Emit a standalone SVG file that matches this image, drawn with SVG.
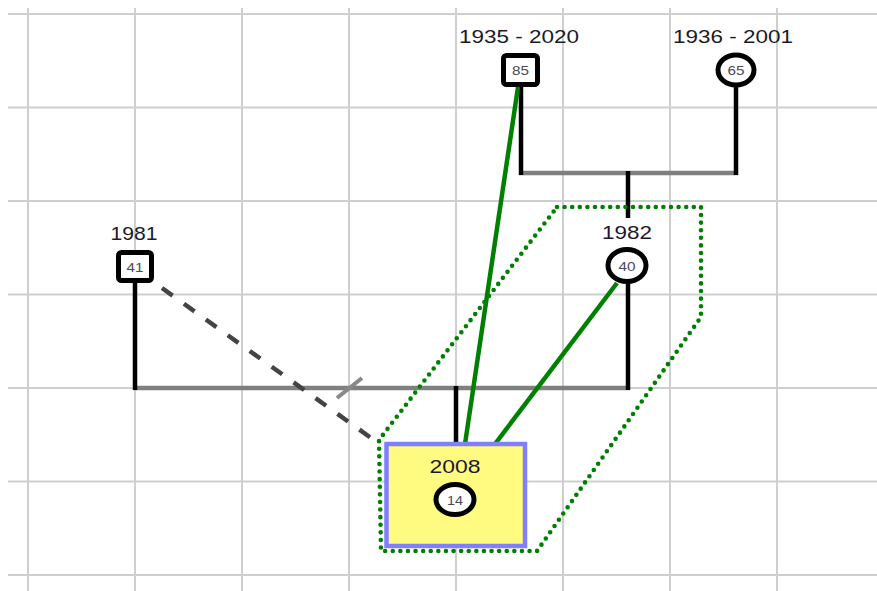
<svg xmlns="http://www.w3.org/2000/svg" width="877" height="591" viewBox="0 0 877 591">
<style>
.grid line{stroke:#cfcfcf;stroke-width:2}
.bar{stroke:#808080;stroke-width:4.5;fill:none}
.blk{stroke:#000;stroke-width:4.5;fill:none}
.grn{stroke:#008000;stroke-width:4.5;fill:none}
.lbl{font-family:"Liberation Sans",Arial,sans-serif;font-size:18.5px;fill:#1a1a2a;text-anchor:middle}
.age{font-family:"Liberation Sans",Arial,sans-serif;font-size:13.5px;fill:#4a4a5a;text-anchor:middle}
.sq{fill:#fff;stroke:#000;stroke-width:5}
.ci{fill:#fff;stroke:#000;stroke-width:5}
</style>
<rect width="877" height="591" fill="#fff"/>
<g class="grid">
<line x1="8" y1="14" x2="877" y2="14"/>
<line x1="8" y1="107.5" x2="877" y2="107.5"/>
<line x1="8" y1="201" x2="877" y2="201"/>
<line x1="8" y1="294.5" x2="877" y2="294.5"/>
<line x1="8" y1="388" x2="877" y2="388"/>
<line x1="8" y1="481.5" x2="877" y2="481.5"/>
<line x1="8" y1="575" x2="877" y2="575"/>
<line x1="28" y1="8" x2="28" y2="591"/>
<line x1="135" y1="8" x2="135" y2="591"/>
<line x1="242" y1="8" x2="242" y2="591"/>
<line x1="349" y1="8" x2="349" y2="591"/>
<line x1="456" y1="8" x2="456" y2="591"/>
<line x1="563" y1="8" x2="563" y2="591"/>
<line x1="670" y1="8" x2="670" y2="591"/>
<line x1="777" y1="8" x2="777" y2="591"/>
</g>
<g id="connectors">
<line class="bar" x1="519" y1="173" x2="738" y2="173"/>
<line class="blk" x1="521" y1="86" x2="521" y2="175"/>
<line class="blk" x1="736" y1="86" x2="736" y2="175"/>
<line class="blk" x1="628" y1="171" x2="628" y2="218"/>
<line class="bar" x1="133" y1="388" x2="630" y2="388"/>
<line class="blk" x1="135" y1="282" x2="135" y2="390"/>
<line class="blk" x1="628" y1="283" x2="628" y2="390"/>
<line class="blk" x1="456" y1="386" x2="456" y2="444"/>
<line x1="162" y1="288" x2="378" y2="443" stroke="#444" stroke-width="4.5" stroke-dasharray="13 14"/>
<line x1="337" y1="398" x2="362" y2="378" stroke="#888" stroke-width="4"/>
<polygon points="557,207 701,207 701,317 537,551 381,551 379,440" fill="none" stroke="#008000" stroke-width="4.6" stroke-linecap="round" stroke-linejoin="round" stroke-dasharray="0 7.6"/>
<line class="grn" x1="518" y1="87" x2="465" y2="444"/>
<line class="grn" x1="617" y1="283" x2="495" y2="444"/>
</g>
<g id="n1935">
<text class="lbl" x="519" y="43" textLength="120" lengthAdjust="spacingAndGlyphs">1935 - 2020</text>
<rect class="sq" x="503.5" y="55.5" width="34" height="29" rx="3"/>
<text class="age" x="520.5" y="75" textLength="17" lengthAdjust="spacingAndGlyphs">85</text>
</g>
<g id="n1936">
<text class="lbl" x="733" y="43" textLength="120" lengthAdjust="spacingAndGlyphs">1936 - 2001</text>
<ellipse class="ci" cx="736" cy="70" rx="18" ry="15"/>
<text class="age" x="736" y="75" textLength="17" lengthAdjust="spacingAndGlyphs">65</text>
</g>
<g id="n1981">
<text class="lbl" x="134" y="240" textLength="47" lengthAdjust="spacingAndGlyphs">1981</text>
<rect class="sq" x="118.5" y="252.5" width="33" height="28" rx="3"/>
<text class="age" x="135" y="271.5" textLength="17" lengthAdjust="spacingAndGlyphs">41</text>
</g>
<g id="n1982">
<text class="lbl" x="627" y="239" textLength="50" lengthAdjust="spacingAndGlyphs">1982</text>
<ellipse class="ci" cx="627" cy="265.5" rx="19" ry="16"/>
<text class="age" x="627" y="270.5" textLength="17" lengthAdjust="spacingAndGlyphs">40</text>
</g>
<g id="n2008">
<rect x="386.5" y="444" width="138.5" height="102" fill="#fffa80" stroke="#7f7fff" stroke-width="4.5"/>
<text class="lbl" x="455" y="473" textLength="51" lengthAdjust="spacingAndGlyphs">2008</text>
<ellipse class="ci" cx="455" cy="499.5" rx="19" ry="15"/>
<text class="age" x="455" y="504.5" textLength="16" lengthAdjust="spacingAndGlyphs">14</text>
</g>
</svg>
